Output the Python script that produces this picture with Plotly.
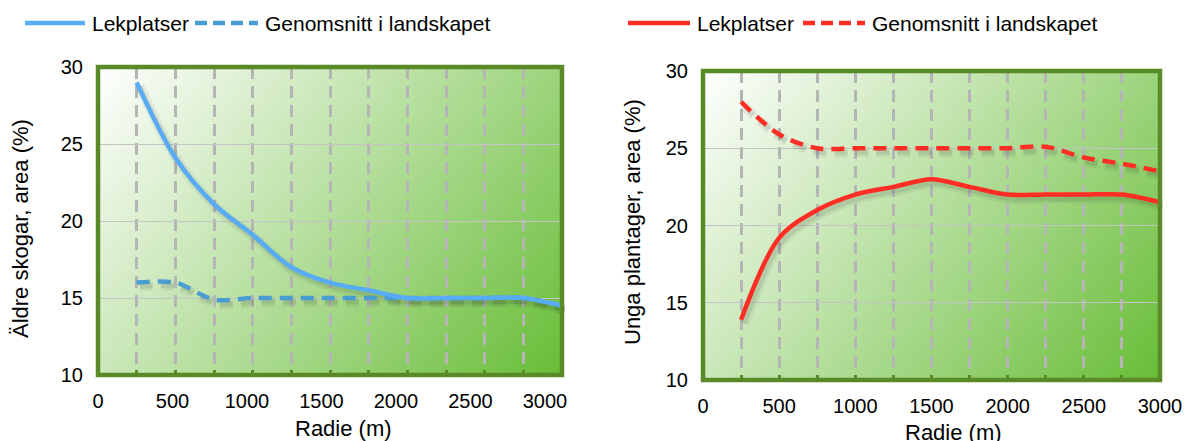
import base64
import plotly.graph_objects as go

# --- data ---
radie = [250, 500, 750, 1000, 1250, 1500, 1750, 2000, 2250, 2500, 2750, 3000]
aldre_lekplatser = [29.0, 24.1, 21.1, 19.1, 17.0, 16.0, 15.5, 15.0, 15.0, 15.0, 15.0, 14.5]
aldre_landskap = [16.0, 16.0, 14.9, 15.0, 15.0, 15.0, 15.0, 15.0, 15.0, 15.0, 15.0, 14.5]
unga_lekplatser = [13.9, 19.2, 21.0, 22.0, 22.5, 23.0, 22.5, 22.0, 22.0, 22.0, 22.0, 21.5]
unga_landskap = [28.0, 25.9, 25.0, 25.0, 25.0, 25.0, 25.0, 25.0, 25.1, 24.4, 24.0, 23.5]

series_names = ["Lekplatser", "Genomsnitt i landskapet"]
x_title = "Radie (m)"
y_titles = ["Äldre skogar, area (%)", "Unga plantager, area (%)"]
x_tickvals = [0, 500, 1000, 1500, 2000, 2500, 3000]
y_tickvals = [10, 15, 20, 25, 30]

W, H = 1192, 441
OFF = 8  # the page body adds an 8px margin
FONT = "Liberation Sans, Arial, sans-serif"
BORDER = "#5a8a27"
BLUE = "#58acf5"
BLUE_D = "#4a9dd0"
RED = "#ff2e24"
# soft shadow: a wide faint stroke plus a narrower, slightly darker one
SHADOW_LAYERS = [(10, "rgba(40,40,40,0.06)"), (5, "rgba(40,40,40,0.10)")]
DASH = "13px,8px"


def px_x(v):
    return (v - OFF) / W


def px_y(v):
    return 1 - (v - OFF) / H


def xdomain(a, b, shift=0):
    return [px_x(a + shift), px_x(b + shift)]


def ydomain(top, bottom, shift=0):
    return [px_y(bottom + shift), px_y(top + shift)]


# gradient background (white top-left -> green bottom-right)
svg = (
    "<svg xmlns='http://www.w3.org/2000/svg' width='200' height='200' preserveAspectRatio='none'>"
    "<defs><linearGradient id='g' x1='0' y1='0' x2='1.19' y2='0.64'>"
    "<stop offset='0' stop-color='#ffffff'/><stop offset='1' stop-color='#68bd37'/>"
    "</linearGradient></defs><rect width='200' height='200' fill='url(#g)'/></svg>"
)
grad_src = "data:image/svg+xml;base64," + base64.b64encode(svg.encode()).decode()

# panel boxes in screen pixels: (left, right, top, bottom)
boxes = [(98, 562, 67, 375), (703, 1160, 71, 380)]

fig = go.Figure()

# empty traces so the grid panels and the left label axis get drawn
for xa, ya in [("x", "y"), ("x2", "y2"), ("x3", "y3")]:
    fig.add_trace(go.Scatter(x=[None], y=[None], xaxis=xa, yaxis=ya, mode="lines",
                             showlegend=False, hoverinfo="skip"))

panels = [
    (aldre_lekplatser, aldre_landskap, BLUE, BLUE_D, ("x4", "y4"), ("x6", "y6")),
    (unga_lekplatser, unga_landskap, RED, RED, ("x5", "y5"), ("x7", "y7")),
]
# drop shadows first (on offset copies of the axes), then the lines themselves
for lek, land, c1, c2, (sx, sy), _ in panels:
    for w, col in SHADOW_LAYERS:
        fig.add_trace(go.Scatter(
            x=radie, y=land, xaxis=sx, yaxis=sy, mode="lines", hoverinfo="skip",
            line=dict(color=col, width=w, dash=DASH, shape="spline", smoothing=0.9),
            showlegend=False,
        ))
        fig.add_trace(go.Scatter(
            x=radie, y=lek, xaxis=sx, yaxis=sy, mode="lines", hoverinfo="skip",
            line=dict(color=col, width=w, shape="spline", smoothing=0.9),
            showlegend=False,
        ))
for lek, land, c1, c2, _, (mx, my) in panels:
    fig.add_trace(go.Scatter(
        x=radie, y=land, xaxis=mx, yaxis=my, mode="lines",
        line=dict(color=c2, width=4.5, dash=DASH, shape="spline", smoothing=0.9),
        name=series_names[1], showlegend=False,
    ))
    fig.add_trace(go.Scatter(
        x=radie, y=lek, xaxis=mx, yaxis=my, mode="lines",
        line=dict(color=c1, width=4.5, shape="spline", smoothing=0.9),
        name=series_names[0], showlegend=False,
    ))

grid_x = dict(
    range=[0, 3000], tickvals=x_tickvals,
    showgrid=True, gridcolor="#b5b5b5", gridwidth=2.5, griddash="12px,7px",
    ticks="inside", ticklen=5, tickwidth=3, tickcolor=BORDER,
    minor=dict(dtick=250, tick0=0, showgrid=True, gridcolor="#b5b5b5", gridwidth=2.5,
               griddash="12px,7px", ticks="inside", ticklen=5, tickwidth=3, tickcolor=BORDER),
    showline=False, zeroline=False, automargin=False,
    tickfont=dict(family=FONT, size=20, color="#000"),
    ticklabelstandoff=12,
)
grid_y = dict(
    range=[10, 30], tickvals=y_tickvals,
    showgrid=True, gridcolor="#c4c4c4", gridwidth=1.2,
    ticks="", showline=False, zeroline=False, automargin=False,
    tickfont=dict(family=FONT, size=20, color="#000"),
    ticklabelstandoff=14,
)
hidden_x = dict(range=[0, 3000], visible=False, automargin=False)
hidden_y = dict(range=[10, 30], visible=False, automargin=False)

(l0, r0, t0, b0), (l1, r1, t1, b1) = boxes
fig.update_layout(
    xaxis=dict(grid_x, domain=xdomain(l0, r0), anchor="y", showticklabels=False),
    yaxis=dict(grid_y, domain=ydomain(t0, b0), anchor="x"),
    xaxis2=dict(grid_x, domain=xdomain(l1, r1), anchor="y2"),
    yaxis2=dict(grid_y, domain=ydomain(t1, b1), anchor="x2"),
    # tick labels of the left panel sit on a slightly narrower scale in the original
    xaxis3=dict(range=[0, 3000], tickvals=x_tickvals, anchor="y3",
                domain=xdomain(l0, 545), showgrid=False, showline=False,
                zeroline=False, ticks="", automargin=False,
                tickfont=dict(family=FONT, size=20, color="#000"), ticklabelstandoff=12),
    yaxis3=dict(hidden_y, anchor="x3", domain=ydomain(t0, b0)),
    # shadow axes, shifted 3px right and 4px down
    xaxis4=dict(hidden_x, anchor="y4", domain=xdomain(l0, r0, 3)),
    yaxis4=dict(hidden_y, anchor="x4", domain=ydomain(t0, b0, 4)),
    xaxis5=dict(hidden_x, anchor="y5", domain=xdomain(l1, r1, 3)),
    yaxis5=dict(hidden_y, anchor="x5", domain=ydomain(t1, b1, 4)),
    # line axes, same boxes as the grid panels
    xaxis6=dict(hidden_x, anchor="y6", domain=xdomain(l0, r0)),
    yaxis6=dict(hidden_y, anchor="x6", domain=ydomain(t0, b0)),
    xaxis7=dict(hidden_x, anchor="y7", domain=xdomain(l1, r1)),
    yaxis7=dict(hidden_y, anchor="x7", domain=ydomain(t1, b1)),
    width=W, height=H,
    margin=dict(l=0, r=0, t=0, b=0, autoexpand=False),
    paper_bgcolor="white", plot_bgcolor="rgba(0,0,0,0)",
    showlegend=False,
    font=dict(family=FONT, color="#000"),
)

# gradient backgrounds and borders
for xa, ya in [("x", "y"), ("x2", "y2")]:
    fig.add_layout_image(
        source=grad_src, xref=f"{xa} domain", yref=f"{ya} domain",
        x=0, y=1, sizex=1, sizey=1, xanchor="left", yanchor="top",
        sizing="stretch", layer="below",
    )
    fig.add_shape(
        type="rect", xref=f"{xa} domain", yref=f"{ya} domain",
        x0=0, x1=1, y0=0, y1=1, line=dict(color=BORDER, width=4.5), layer="above",
    )

# axis titles
for txt, x, y, ang in [
    (x_title, 343, 428, 0),
    (x_title, 953, 432, 0),
    (y_titles[0], 21, 229, -90),
    (y_titles[1], 632, 222, -90),
]:
    fig.add_annotation(text=txt, x=px_x(x), y=px_y(y), xref="paper", yref="paper",
                       xanchor="center", yanchor="middle", showarrow=False,
                       textangle=ang, font=dict(size=22, family=FONT))

# legends (drawn by hand to match the long line samples)
legend_rows = [
    (25, 85, 90, 195, 258, 263, BLUE, BLUE_D),
    (628, 690, 695, 803, 865, 870, RED, RED),
]
ly = 23
for s0, s1, tx0, d0, d1, tx1, c1, c2 in legend_rows:
    fig.add_shape(type="line", xref="paper", yref="paper",
                  x0=px_x(s0), x1=px_x(s1), y0=px_y(ly), y1=px_y(ly),
                  line=dict(color=c1, width=4.5))
    fig.add_shape(type="line", xref="paper", yref="paper",
                  x0=px_x(d0), x1=px_x(d1), y0=px_y(ly), y1=px_y(ly),
                  line=dict(color=c2, width=4.5, dash="12px,6px"))
    fig.add_annotation(text=series_names[0], x=px_x(tx0), y=px_y(ly), xref="paper", yref="paper",
                       xanchor="left", yanchor="middle", showarrow=False,
                       font=dict(size=21, family=FONT))
    fig.add_annotation(text=series_names[1], x=px_x(tx1), y=px_y(ly), xref="paper", yref="paper",
                       xanchor="left", yanchor="middle", showarrow=False,
                       font=dict(size=21, family=FONT))

fig.write_html("out.html")
